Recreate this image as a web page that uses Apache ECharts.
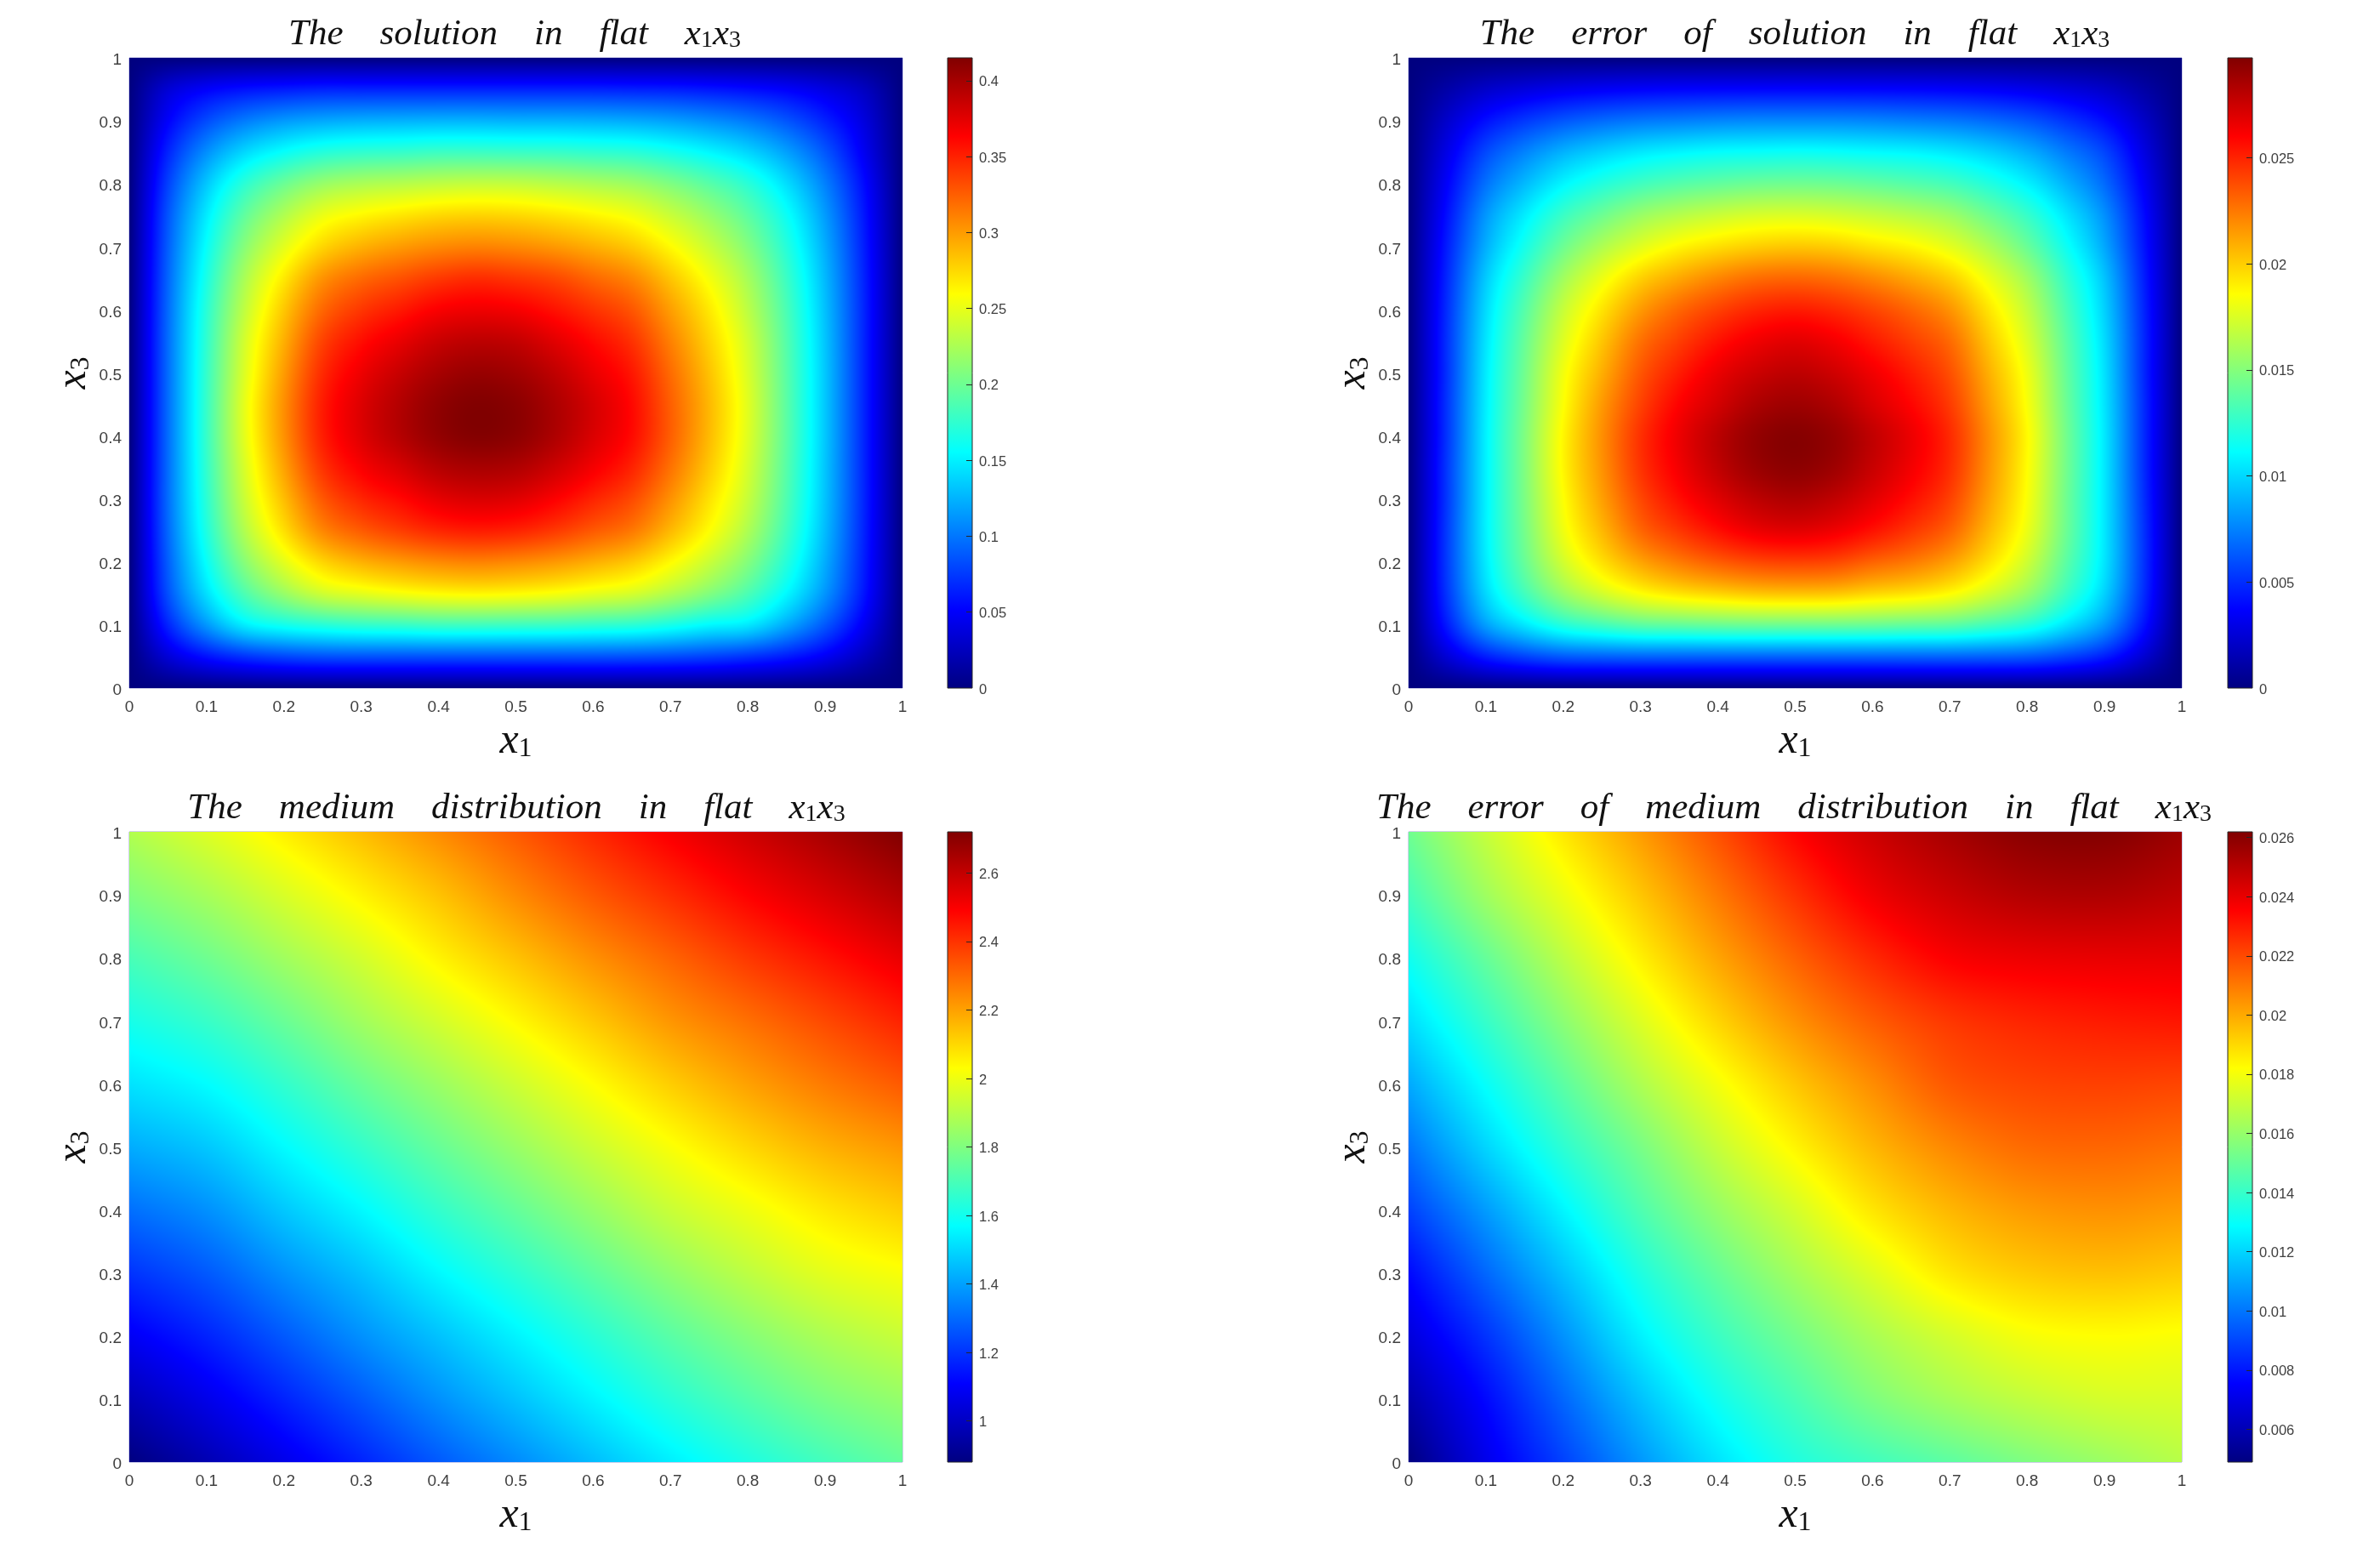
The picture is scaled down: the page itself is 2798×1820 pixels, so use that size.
<!DOCTYPE html>
<html>
<head>
<meta charset="utf-8">
<title>Solution and medium distribution in flat x1x3</title>
<script src="https://cdn.jsdelivr.net/npm/echarts@6/dist/echarts.min.js"></script>
<style>
  html, body { margin: 0; padding: 0; background: #fff; }
  #chart { width: 2798px; height: 1820px; }
</style>
</head>
<body>
<div id="chart"></div>
<script>
// values, rows run from x3 = 1 down to x3 = 0, columns from x1 = 0 to x1 = 1
const axisTicks = [0, 0.1, 0.2, 0.3, 0.4, 0.5, 0.6, 0.7, 0.8, 0.9, 1]

const solutionField = [
  [0,0,0,0,0,0,0,0,0,0,0,0,0,0,0,0,0,0,0,0,0],
  [0,.034,.05,.058,.062,.065,.065,.065,.065,.065,.065,.065,.065,.064,.063,.06,.056,.05,.04,.026,0],
  [0,.05,.082,.102,.114,.12,.123,.124,.125,.125,.124,.124,.123,.121,.117,.11,.101,.086,.065,.038,0],
  [0,.065,.11,.14,.158,.17,.175,.177,.18,.18,.179,.178,.175,.172,.164,.153,.139,.117,.087,.046,0],
  [0,.077,.133,.173,.199,.217,.225,.229,.233,.235,.234,.23,.225,.219,.207,.191,.172,.142,.104,.055,0],
  [0,.085,.148,.195,.227,.251,.262,.269,.275,.277,.275,.27,.263,.254,.237,.217,.193,.159,.115,.06,0],
  [0,.089,.158,.211,.248,.276,.291,.3,.307,.31,.307,.301,.292,.281,.261,.237,.209,.17,.122,.063,0],
  [0,.092,.166,.225,.268,.303,.32,.33,.34,.345,.341,.334,.321,.308,.283,.255,.223,.179,.127,.065,0],
  [0,.094,.172,.234,.282,.321,.341,.353,.365,.369,.366,.356,.343,.328,.299,.268,.232,.185,.13,.066,0],
  [0,.095,.175,.242,.292,.336,.358,.372,.385,.39,.387,.375,.36,.343,.311,.277,.24,.189,.132,.066,0],
  [0,.095,.177,.246,.3,.346,.37,.386,.399,.405,.401,.389,.372,.354,.32,.284,.244,.191,.133,.066,0],
  [0,.095,.178,.25,.305,.352,.377,.394,.408,.414,.41,.397,.38,.36,.325,.288,.247,.192,.133,.066,0],
  [0,.095,.178,.249,.304,.351,.376,.393,.407,.413,.409,.396,.378,.359,.325,.287,.246,.192,.133,.066,0],
  [0,.095,.176,.244,.297,.342,.365,.379,.393,.398,.395,.383,.367,.349,.317,.281,.242,.19,.132,.066,0],
  [0,.095,.173,.238,.286,.327,.348,.36,.373,.378,.375,.364,.349,.333,.304,.271,.236,.187,.131,.066,0],
  [0,.093,.168,.228,.272,.308,.326,.338,.348,.352,.349,.34,.327,.314,.288,.259,.226,.181,.128,.065,0],
  [0,.089,.158,.211,.248,.276,.291,.3,.307,.31,.307,.301,.292,.281,.261,.237,.209,.17,.122,.063,0],
  [0,.083,.143,.187,.217,.239,.248,.255,.26,.262,.26,.256,.249,.242,.227,.208,.186,.153,.112,.059,0],
  [0,.065,.113,.148,.162,.17,.175,.177,.18,.18,.179,.178,.175,.172,.164,.153,.146,.12,.087,.046,0],
  [0,.035,.058,.072,.08,.084,.085,.085,.085,.085,.085,.085,.085,.084,.082,.078,.072,.062,.047,.025,0],
  [0,0,0,0,0,0,0,0,0,0,0,0,0,0,0,0,0,0,0,0,0]
]

const solutionErrorField = [
  [0,0,0,0,0,0,0,0,0,0,0,0,0,0,0,0,0,0,0,0,0],
  [0,.00115,.00215,.00273,.00319,.00346,.00364,.00373,.00377,.00379,.0038,.00379,.00377,.00373,.00364,.00346,.00317,.0027,.00212,.00111,0],
  [0,.0022,.0041,.0053,.0062,.0068,.0072,.0074,.0076,.0077,.0077,.0077,.0076,.0074,.0072,.0068,.0062,.0052,.004,.0021,0],
  [0,.003,.0058,.0075,.0089,.0098,.0105,.0109,.0112,.0113,.0114,.0113,.0111,.0109,.0105,.0098,.0088,.0073,.0057,.0029,0],
  [0,.0036,.007,.0091,.0109,.0121,.013,.0136,.014,.0143,.0144,.0143,.014,.0136,.0131,.0121,.0108,.0089,.0068,.0035,0],
  [0,.0041,.0081,.0106,.0128,.0143,.0156,.0164,.017,.0174,.0175,.0173,.0169,.0164,.0157,.0143,.0127,.0104,.0079,.004,0],
  [0,.0045,.0088,.0117,.0143,.0162,.0177,.0188,.0195,.02,.0202,.02,.0194,.0188,.0178,.0162,.0142,.0115,.0086,.0043,0],
  [0,.0048,.0096,.0128,.0158,.018,.0199,.0211,.0221,.0228,.023,.0227,.022,.0211,.02,.018,.0158,.0126,.0094,.0046,0],
  [0,.005,.0101,.0136,.0169,.0193,.0215,.023,.0241,.0249,.0252,.0248,.024,.023,.0217,.0193,.0168,.0133,.0098,.0048,0],
  [0,.0051,.0104,.0141,.0176,.0202,.0227,.0242,.0255,.0264,.0268,.0263,.0253,.0242,.0229,.0202,.0175,.0138,.0101,.0049,0],
  [0,.0051,.0106,.0144,.0182,.0209,.0235,.0252,.0266,.0275,.0279,.0274,.0264,.0252,.0237,.0209,.0181,.0141,.0103,.0049,0],
  [0,.0052,.0107,.0146,.0185,.0215,.0241,.026,.0273,.0284,.0288,.0283,.0271,.0259,.0243,.0214,.0184,.0143,.0104,.005,0],
  [0,.0052,.0108,.0148,.0188,.0218,.0246,.0265,.028,.0291,.0295,.029,.0278,.0265,.0248,.0218,.0187,.0145,.0105,.005,0],
  [0,.0053,.0108,.0148,.0188,.0217,.0245,.0263,.0278,.0289,.0293,.0288,.0276,.0263,.0247,.0217,.0186,.0145,.0105,.005,0],
  [0,.0053,.0108,.0147,.0185,.0213,.0239,.0256,.0269,.0279,.0283,.0278,.0268,.0256,.0241,.0213,.0184,.0144,.0105,.0051,0],
  [0,.0054,.0108,.0145,.0181,.0206,.023,.0244,.0256,.0265,.0268,.0264,.0255,.0244,.0231,.0206,.018,.0143,.0105,.0052,0],
  [0,.0054,.0106,.0141,.0172,.0194,.0212,.0224,.0233,.0239,.0241,.0239,.0231,.0224,.0213,.0194,.0171,.0138,.0104,.0052,0],
  [0,.0052,.01,.013,.0155,.0172,.0185,.0193,.0198,.0202,.0203,.0202,.0197,.0193,.0186,.0172,.0155,.0128,.0098,.005,0],
  [0,.0044,.0083,.0104,.0121,.013,.0137,.0139,.0141,.0142,.0142,.0142,.0141,.0139,.0137,.013,.0121,.0103,.0081,.0042,0],
  [0,.0025,.0045,.0056,.0063,.0065,.0066,.0066,.0066,.0066,.0066,.0066,.0066,.0066,.0066,.0065,.0063,.0056,.0045,.0024,0],
  [0,0,0,0,0,0,0,0,0,0,0,0,0,0,0,0,0,0,0,0,0]
]

const mediumField = [
  [1.89,1.97,2.06,2.15,2.24,2.33,2.42,2.505,2.58,2.65,2.72],
  [1.8,1.87,1.96,2.05,2.14,2.24,2.33,2.41,2.49,2.56,2.63],
  [1.7,1.77,1.86,1.95,2.05,2.14,2.23,2.31,2.39,2.46,2.53],
  [1.61,1.67,1.76,1.86,1.95,2.04,2.13,2.22,2.29,2.36,2.43],
  [1.52,1.57,1.66,1.76,1.85,1.94,2.03,2.12,2.2,2.27,2.33],
  [1.42,1.47,1.565,1.66,1.755,1.845,1.935,2.02,2.1,2.17,2.22],
  [1.31,1.37,1.47,1.56,1.66,1.75,1.84,1.93,2,2.07,2.12],
  [1.2,1.27,1.37,1.46,1.56,1.65,1.74,1.83,1.91,1.98,2.02],
  [1.09,1.17,1.27,1.37,1.46,1.55,1.64,1.73,1.81,1.88,1.93],
  [.98,1.07,1.17,1.27,1.37,1.46,1.55,1.64,1.72,1.79,1.84],
  [.88,.97,1.07,1.17,1.27,1.36,1.45,1.54,1.62,1.69,1.75]
]

const mediumErrorField = [
  [.0152,.017,.0187,.0203,.0219,.0235,.0246,.0254,.026,.0261,.0256],
  [.0143,.0162,.0178,.0194,.021,.0225,.0238,.0246,.0251,.0252,.0249],
  [.0132,.015,.0168,.0185,.0201,.0215,.0227,.0236,.0239,.024,.024],
  [.0122,.014,.0158,.0175,.0191,.0205,.0216,.0224,.0228,.023,.0231],
  [.0111,.013,.0148,.0165,.018,.0194,.0206,.0217,.0221,.0222,.0221],
  [.01,.012,.0138,.0154,.017,.0184,.0197,.0207,.0213,.0214,.0212],
  [.0089,.0108,.0127,.0145,.016,.0173,.0187,.0197,.0203,.0205,.0203],
  [.0077,.0097,.0116,.0135,.015,.0163,.0175,.0187,.0193,.0195,.0193],
  [.0068,.0086,.0106,.0126,.0141,.0153,.0164,.0173,.018,.0182,.0181],
  [.0058,.0077,.0097,.0116,.0132,.0144,.0155,.0163,.0169,.0173,.0174],
  [.0049,.0071,.0089,.0107,.0123,.0135,.0142,.0148,.0155,.0161,.0167]
]

const solutionRange = [0, 0.415]
const solutionErrorRange = [0, 0.0297]
const mediumRange = [0.88, 2.72]
const mediumErrorRange = [0.00489, 0.02619]

const solutionTicks = [0, 0.05, 0.1, 0.15, 0.2, 0.25, 0.3, 0.35, 0.4]
const solutionErrorTicks = [0, 0.005, 0.01, 0.015, 0.02, 0.025]
const mediumTicks = [1, 1.2, 1.4, 1.6, 1.8, 2, 2.2, 2.4, 2.6]
const mediumErrorTicks = [0.006, 0.008, 0.01, 0.012, 0.014, 0.016, 0.018, 0.02, 0.022, 0.024, 0.026]

const panels = [
  { words: 'The\u2003solution\u2003in\u2003flat\u2003', field: solutionField, range: solutionRange, ticks: solutionTicks, left: 152, top: 68, cbLeft: 1114, titleX: 600 },
  { words: 'The\u2003error\u2003of\u2003solution\u2003in\u2003flat\u2003', field: solutionErrorField, range: solutionErrorRange, ticks: solutionErrorTicks, left: 1656, top: 68, cbLeft: 2619, titleX: 2105 },
  { words: 'The\u2003medium\u2003distribution\u2003in\u2003flat\u2003', field: mediumField, range: mediumRange, ticks: mediumTicks, left: 152, top: 978, cbLeft: 1114, titleX: 602 },
  { words: 'The\u2003error\u2003of\u2003medium\u2003distribution\u2003in\u2003flat\u2003', field: mediumErrorField, range: mediumErrorRange, ticks: mediumErrorTicks, left: 1656, top: 978, cbLeft: 2619, titleX: 2104 }
]

const plotWidth = 909
const plotHeight = 741
const cbWidth = 29

const mathFont = '"Liberation Serif", serif'
const tickFont = '"Liberation Sans", Arial, sans-serif'
const tickColor = '#404040'

// MATLAB jet, t in 0..1
function jet (t) {
  const c = v => Math.max(0, Math.min(1, 1.5 - Math.abs(v)))
  return [c(4 * t - 3), c(4 * t - 2), c(4 * t - 1)]
}

const jetStops = [0, 0.125, 0.375, 0.625, 0.875, 1].map(offset => {
  const rgb = jet(offset).map(v => Math.round(v * 255))
  return { offset: offset, color: 'rgb(' + rgb.join(',') + ')' }
})

function cubicWeights (s) {
  return [
    0.5 * (-s * s * s + 2 * s * s - s),
    0.5 * (3 * s * s * s - 5 * s * s + 2),
    0.5 * (-3 * s * s * s + 4 * s * s + s),
    0.5 * (s * s * s - s * s)
  ]
}

// read a node, past the edge of the table continue the last slope
function node (rows, r, c) {
  const m = rows.length
  const n = rows[0].length
  if (r < 0) return 2 * node(rows, 0, c) - node(rows, 1, c)
  if (r >= m) return 2 * node(rows, m - 1, c) - node(rows, m - 2, c)
  if (c < 0) return 2 * rows[r][0] - rows[r][1]
  if (c >= n) return 2 * rows[r][n - 1] - rows[r][n - 2]
  return rows[r][c]
}

// shade one table cell pixel by pixel, like shading interp does in MATLAB
function shadeCell (rows, r, c, w, h, range) {
  const canvas = document.createElement('canvas')
  canvas.width = w
  canvas.height = h
  const ctx = canvas.getContext('2d')
  const img = ctx.createImageData(w, h)
  const wxs = []
  for (let i = 0; i < w; i++) wxs.push(cubicWeights((i + 0.5) / w))
  const span = range[1] - range[0]
  const around = [-1, 0, 1, 2].map(dr => [-1, 0, 1, 2].map(dc => node(rows, r + dr, c + dc)))
  for (let j = 0; j < h; j++) {
    const wy = cubicWeights((j + 0.5) / h)
    const col = [0, 1, 2, 3].map(k =>
      wy[0] * around[0][k] + wy[1] * around[1][k] + wy[2] * around[2][k] + wy[3] * around[3][k])
    for (let i = 0; i < w; i++) {
      const wx = wxs[i]
      const v = wx[0] * col[0] + wx[1] * col[1] + wx[2] * col[2] + wx[3] * col[3]
      const t = Math.max(0, Math.min(1, (v - range[0]) / span))
      const rgb = jet(t)
      const p = (j * w + i) * 4
      img.data[p] = rgb[0] * 255
      img.data[p + 1] = rgb[1] * 255
      img.data[p + 2] = rgb[2] * 255
      img.data[p + 3] = 255
    }
  }
  ctx.putImageData(img, 0, 0)
  return canvas
}

function fieldSeries (panel, index) {
  const rows = panel.field
  const m = rows.length
  const n = rows[0].length
  const points = []
  rows.forEach((row, r) => row.forEach((v, c) => {
    points.push([c / (n - 1), 1 - r / (m - 1), v, r, c])
  }))
  return {
    type: 'custom',
    coordinateSystem: 'cartesian2d',
    xAxisIndex: index * 2,
    yAxisIndex: index * 2,
    silent: true,
    animation: false,
    clip: true,
    data: points,
    renderItem (params, api) {
      const r = api.value(3)
      const c = api.value(4)
      if (r === 0 || c === n - 1) return null
      // node is the lower left corner of the cell, the table row above is the upper edge
      const low = api.coord([api.value(0), api.value(1)])
      const high = api.coord([(c + 1) / (n - 1), 1 - (r - 1) / (m - 1)])
      const x0 = Math.round(low[0])
      const x1 = Math.round(high[0])
      const y0 = Math.round(high[1])
      const y1 = Math.round(low[1])
      return {
        type: 'image',
        style: {
          image: shadeCell(rows, r - 1, c, x1 - x0, y1 - y0, panel.range),
          x: x0,
          y: y0,
          width: x1 - x0,
          height: y1 - y0
        }
      }
    }
  }
}

function colorbarSeries (panel, index) {
  return {
    type: 'custom',
    coordinateSystem: 'cartesian2d',
    xAxisIndex: index * 2 + 1,
    yAxisIndex: index * 2 + 1,
    silent: true,
    animation: false,
    z: 1,
    data: [panel.range],
    renderItem (params, api) {
      const low = api.coord([0, api.value(0)])
      const high = api.coord([1, api.value(1)])
      return {
        type: 'rect',
        shape: { x: low[0], y: high[1], width: high[0] - low[0], height: low[1] - high[1] },
        style: {
          fill: new echarts.graphic.LinearGradient(0, 1, 0, 0, jetStops),
          stroke: '#262626',
          lineWidth: 1
        }
      }
    }
  }
}

function mathRich (size, subSize, subPad) {
  return {
    m: { fontFamily: mathFont, fontStyle: 'italic', fontWeight: 'normal', fontSize: size, color: '#111' },
    s: { fontFamily: mathFont, fontWeight: 'normal', fontSize: subSize, color: '#111', padding: [subPad, 0, 0, 0] }
  }
}

const grids = []
const xAxes = []
const yAxes = []
const titles = []
const series = []

panels.forEach((panel, index) => {
  grids.push({
    left: panel.left,
    top: panel.top,
    width: plotWidth,
    height: plotHeight,
    show: true,
    borderWidth: 1,
    borderColor: '#a0a0d8',
    backgroundColor: '#fff'
  })
  grids.push({ left: panel.cbLeft, top: panel.top, width: cbWidth, height: plotHeight })

  xAxes.push({
    gridIndex: index * 2,
    type: 'value',
    min: 0,
    max: 1,
    interval: axisTicks[1],
    axisLine: { show: false },
    axisTick: { show: false },
    splitLine: { show: false },
    axisLabel: { margin: 13, fontFamily: tickFont, fontSize: 19, color: tickColor },
    name: '{m|x}{s|1}',
    nameLocation: 'middle',
    nameGap: 38,
    nameTextStyle: { rich: mathRich(50, 32, 18) }
  })
  yAxes.push({
    gridIndex: index * 2,
    type: 'value',
    min: 0,
    max: 1,
    interval: axisTicks[1],
    axisLine: { show: false },
    axisTick: { show: false },
    splitLine: { show: false },
    axisLabel: { margin: 9, fontFamily: tickFont, fontSize: 19, color: tickColor, verticalAlign: 'top', lineHeight: 6 },
    name: '{m|x}{s|3}',
    nameLocation: 'middle',
    nameGap: 40,
    nameTextStyle: { rich: mathRich(50, 32, 18) }
  })

  xAxes.push({
    gridIndex: index * 2 + 1,
    type: 'value',
    min: 0,
    max: 1,
    show: false
  })
  yAxes.push({
    gridIndex: index * 2 + 1,
    type: 'value',
    position: 'right',
    z: 5,
    min: panel.range[0],
    max: panel.range[1],
    axisLine: { show: false, onZero: false },
    axisTick: {
      show: true,
      inside: true,
      length: 7,
      customValues: panel.ticks.filter(v => v !== panel.range[0]),
      lineStyle: { color: '#262626', width: 1 }
    },
    splitLine: { show: false },
    axisLabel: {
      margin: 8,
      fontFamily: tickFont,
      fontSize: 16.5,
      color: tickColor,
      verticalAlign: 'top',
      lineHeight: 4,
      customValues: panel.ticks,
      formatter: v => String(v)
    }
  })

  titles.push({
    text: '{m|' + panel.words + 'x}{s|1}{m|x}{s|3}',
    left: panel.titleX,
    top: panel.top - 54,
    textAlign: 'center',
    textStyle: { rich: mathRich(43, 28, 14) }
  })

  series.push(fieldSeries(panel, index))
  series.push(colorbarSeries(panel, index))
})

const chart = echarts.init(document.getElementById('chart'), null, { renderer: 'canvas' })
chart.setOption({
  animation: false,
  backgroundColor: '#fff',
  title: titles,
  grid: grids,
  xAxis: xAxes,
  yAxis: yAxes,
  series: series
})
</script>
</body>
</html>
